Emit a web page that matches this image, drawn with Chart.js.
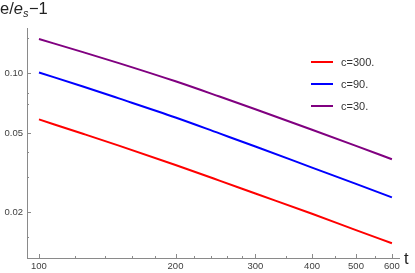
<!DOCTYPE html>
<html>
<head>
<meta charset="utf-8">
<script src="https://cdn.jsdelivr.net/npm/chart.js@4"></script>
<style>
  html, body { margin: 0; padding: 0; background: #fff; }
  #wrap { width: 415px; height: 273px; }
</style>
</head>
<body>
<div id="wrap"><canvas id="plot"></canvas></div>
<script>
// ---- data (log-log) ----
const T_VALUES = [100, 125, 150, 200, 250, 300, 400, 500, 600];
const C300 = [0.0586, 0.0496, 0.0432, 0.0345, 0.0288, 0.0248, 0.0196, 0.0162, 0.0139];
const C90  = [0.101, 0.0859, 0.0748, 0.0599, 0.0498, 0.0428, 0.0335, 0.0277, 0.0237];
const C30  = [0.149, 0.128, 0.1127, 0.0912, 0.0764, 0.0659, 0.0520, 0.0431, 0.0369];
const SERIES_LABELS = ["c=300.", "c=90.", "c=30."];

const X_MAJOR = [100, 200, 300, 400, 500, 600];
const X_MINOR = [120, 140, 160, 180, 220, 240, 260, 280, 350, 450, 550];
const Y_MAJOR = [0.02, 0.05, 0.1];
const Y_MINOR = [0.015, 0.03, 0.04, 0.07, 0.08, 0.15];

const RED = "#ff0000";
const BLUE = "#0000ff";
const PURPLE = "#800080";
const AXIS = "#8a8a8a";
const LABEL = "#404040";
const FONT = "'Liberation Sans', Arial, sans-serif";

function pts(ys) {
  return T_VALUES.map((t, i) => ({ x: t, y: ys[i] }));
}

// inward tick marks, axis titles and legend
const decor = {
  id: "decor",
  afterDraw(chart) {
    const ctx = chart.ctx;
    const xs = chart.scales.x;
    const ys = chart.scales.y;
    const a = chart.chartArea;
    ctx.save();
    ctx.strokeStyle = AXIS;
    ctx.lineWidth = 1;
    ctx.beginPath();
    X_MAJOR.forEach(v => {
      const px = Math.round(xs.getPixelForValue(v)) + 0.5;
      ctx.moveTo(px, a.bottom); ctx.lineTo(px, a.bottom - 4);
    });
    X_MINOR.forEach(v => {
      const px = Math.round(xs.getPixelForValue(v)) + 0.5;
      ctx.moveTo(px, a.bottom); ctx.lineTo(px, a.bottom - 2);
    });
    Y_MAJOR.forEach(v => {
      const py = Math.round(ys.getPixelForValue(v)) + 0.5;
      ctx.moveTo(a.left, py); ctx.lineTo(a.left + 4, py);
    });
    Y_MINOR.forEach(v => {
      const py = Math.round(ys.getPixelForValue(v)) + 0.5;
      ctx.moveTo(a.left, py); ctx.lineTo(a.left + 2, py);
    });
    ctx.stroke();

    // y title: e/e_s-1
    ctx.fillStyle = "#222";
    ctx.textBaseline = "alphabetic";
    ctx.textAlign = "left";
    let x = 0;
    const base = 14;
    ctx.font = "16.5px " + FONT;
    ctx.fillText("e/", x, base);
    x += ctx.measureText("e/").width;
    ctx.font = "italic 16.5px " + FONT;
    ctx.fillText("e", x, base);
    x += ctx.measureText("e").width;
    ctx.font = "italic 11px " + FONT;
    ctx.fillText("s", x, base + 3);
    x += ctx.measureText("s").width + 0.5;
    ctx.font = "16.5px " + FONT;
    ctx.fillText("\u22121", x, base);

    // x title
    ctx.fillText("t", 404, 264);

    // legend
    const rows = [62, 84, 106];
    chart.data.datasets.forEach((ds, i) => {
      ctx.strokeStyle = ds.borderColor;
      ctx.lineWidth = 2;
      ctx.beginPath();
      ctx.moveTo(311, rows[i]); ctx.lineTo(333, rows[i]);
      ctx.stroke();
      ctx.fillStyle = "#333";
      ctx.font = "11px " + FONT;
      ctx.textBaseline = "middle";
      ctx.fillText(ds.label, 341, rows[i] + 1);
    });
    ctx.restore();
  }
};

new Chart(document.getElementById("plot"), {
  type: "line",
  data: {
    datasets: [
      { label: SERIES_LABELS[0], data: pts(C300), borderColor: RED },
      { label: SERIES_LABELS[1], data: pts(C90), borderColor: BLUE },
      { label: SERIES_LABELS[2], data: pts(C30), borderColor: PURPLE }
    ]
  },
  options: {
    responsive: true,
    maintainAspectRatio: false,
    animation: false,
    layout: { padding: { top: 28, right: 16, left: 0, bottom: 0 } },
    elements: {
      line: { borderWidth: 2, tension: 0.4, cubicInterpolationMode: "monotone" },
      point: { radius: 0 }
    },
    plugins: {
      legend: { display: false },
      tooltip: { enabled: false }
    },
    scales: {
      x: {
        type: "logarithmic",
        min: 94.1,
        max: 622,
        grid: { display: false, drawTicks: false },
        border: { display: true, color: AXIS, width: 1 },
        afterBuildTicks: s => { s.ticks = X_MAJOR.map(v => ({ value: v })); },
        afterFit: s => { s.height = 15; },
        ticks: {
          autoSkip: false,
          maxRotation: 0,
          padding: 3,
          color: LABEL,
          font: { family: FONT, size: 9.5 },
          callback: v => String(v)
        }
      },
      y: {
        type: "logarithmic",
        min: 0.01172,
        max: 0.1694,
        grid: { display: false, drawTicks: false },
        border: { display: true, color: AXIS, width: 1 },
        afterBuildTicks: s => { s.ticks = Y_MAJOR.map(v => ({ value: v })); },
        afterFit: s => { s.width = 27; },
        ticks: {
          autoSkip: false,
          padding: 4,
          color: LABEL,
          font: { family: FONT, size: 9.5 },
          callback: v => v.toFixed(2)
        }
      }
    }
  },
  plugins: [decor]
});
</script>
</body>
</html>
